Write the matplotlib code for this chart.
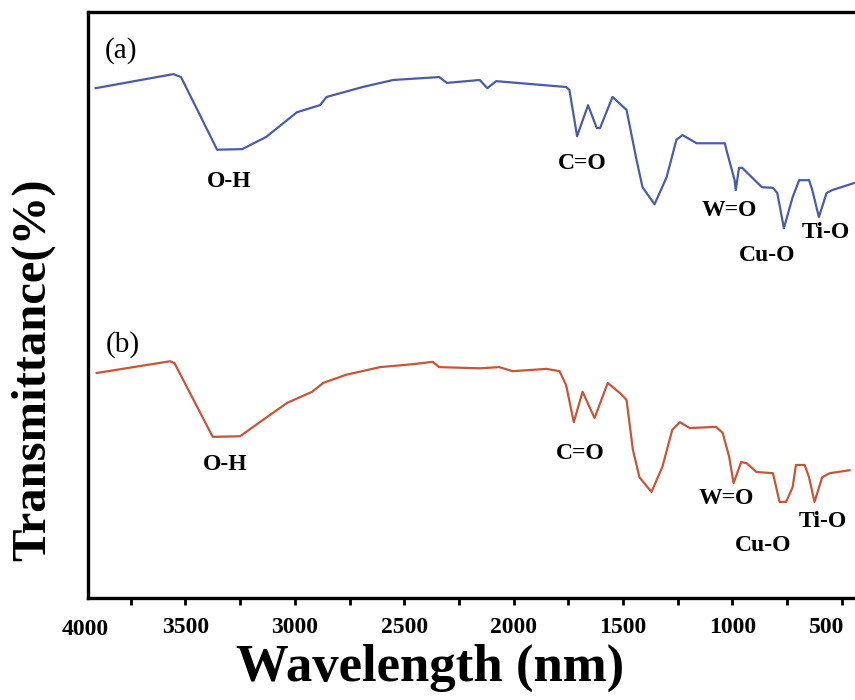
import matplotlib
matplotlib.use("Agg")
import matplotlib.pyplot as plt
import matplotlib.transforms as mtransforms
from matplotlib.ticker import MultipleLocator

# spectrum (a) - wavenumber vs transmittance (arb. %)
wn_a = [3910, 3555, 3520, 3355, 3240, 3130, 2990, 2885, 2855, 2690, 2550, 2340, 2305,
        2155, 2120, 2080, 1760, 1745, 1710, 1660, 1620, 1605, 1548, 1484, 1438, 1411,
        1356, 1301, 1256, 1228, 1164, 1090, 1035, 1025, 990, 985, 970, 955, 890, 865,
        815, 795, 765, 725, 695, 650, 635, 605, 570, 545, 445]
tr_a = [87.0, 89.4, 88.9, 76.5, 76.6, 78.7, 82.9, 84.1, 85.5, 87.2, 88.4, 88.9, 87.9,
        88.4, 87.0, 88.2, 87.2, 86.7, 78.8, 84.1, 80.2, 80.2, 85.5, 83.3, 74.7, 70.1,
        67.2, 71.8, 78.2, 79.0, 77.6, 77.6, 77.6, 76.1, 71.3, 69.6, 73.4, 73.4, 71.0, 70.1,
        70.0, 69.1, 63.1, 68.4, 71.3, 71.3, 69.6, 65.0, 69.1, 69.6, 70.8]

# spectrum (b)
wn_b = [3905, 3570, 3550, 3375, 3250, 3145, 3035, 2920, 2870, 2765, 2610, 2460, 2370,
        2340, 2155, 2065, 2005, 1850, 1790, 1760, 1725, 1685, 1630, 1570, 1515, 1484,
        1455, 1425, 1370, 1320, 1275, 1240, 1195, 1075, 1045, 1015, 995, 960, 935, 890,
        815, 800, 785, 755, 725, 710, 670, 650, 625, 590, 555, 465]
tr_b = [38.4, 40.4, 40.1, 27.5, 27.6, 30.4, 33.3, 35.2, 36.7, 38.1, 39.4, 39.9, 40.3,
        39.4, 39.2, 39.4, 38.7, 39.1, 38.7, 36.3, 30.0, 35.2, 30.7, 36.7, 35.0, 33.8,
        25.3, 20.6, 18.1, 22.4, 28.7, 30.0, 29.0, 29.2, 28.2, 24.1, 19.6, 23.2, 23.0, 21.5,
        21.3, 18.9, 16.4, 16.4, 18.9, 22.7, 22.7, 20.6, 16.4, 20.6, 21.3, 21.8]

# band labels: text, wavenumber, transmittance
bands_a = [("O-H", 3301, 71.0), ("C=O", 1685, 74.2), ("W=O", 1014, 66.2),
           ("Cu-O", 840, 58.5), ("Ti-O", 575, 62.3)]
bands_b = [("O-H", 3320, 22.7), ("C=O", 1694, 24.7), ("W=O", 1027, 16.9),
           ("Cu-O", 858, 9.0), ("Ti-O", 589, 13.0)]

tick_vals = [3500, 3000, 2500, 2000, 1500, 1000, 500]

serif = ["Liberation Serif", "DejaVu Serif"]

fig = plt.figure(figsize=(8.55, 7), dpi=100)
ax = fig.add_axes([88 / 855, 1 - 598 / 700, 1 - 88 / 855, 586 / 700])

ax.plot(wn_a, tr_a, color="#4a5ca8", lw=1.6)
ax.plot(wn_b, tr_b, color="#c8553a", lw=1.6)

ax.set_xlim(3945, 440)
ax.set_ylim(0, 100)

ax.text(3867, 93.5, "(a)", family=serif, fontsize=21, ha="left", va="center")
ax.text(3865, 43.2, "(b)", family=serif, fontsize=21, ha="left", va="center")

for name, x, y in bands_a + bands_b:
    ax.text(x, y, name, family=serif, fontsize=17, fontweight="bold",
            ha="center", va="center")

ax.set_xticks(tick_vals)
ax.set_xticklabels([str(v) for v in tick_vals], family=serif, fontsize=17,
                   fontweight="bold")
ax.xaxis.set_minor_locator(MultipleLocator(250))
ax.tick_params(axis="x", which="both", direction="out", length=5, width=2, pad=9)
ax.set_yticks([])

# last label pulled in a little so it stays inside the figure
lbl = ax.get_xticklabels()[-1]
lbl.set_transform(lbl.get_transform() +
                  mtransforms.ScaledTranslation(-0.15, 0, fig.dpi_scale_trans))

# the 4000 label sits just outside the plotted range
ax.text(3959, -3.5, "4000", family=serif, fontsize=17, fontweight="bold",
        ha="center", va="top", clip_on=False)

for s in ["left", "bottom", "top"]:
    ax.spines[s].set_linewidth(2.4)
ax.spines["right"].set_visible(False)

fig.text(430 / 855, 1 - 668 / 700, "Wavelength (nm)", family=serif, fontsize=38,
         fontweight="bold", ha="center", va="center")
fig.text(33 / 855, 1 - 370 / 700, "Transmittance(%)", family=serif, fontsize=35,
         fontweight="bold", ha="center", va="center", rotation=90)

fig.savefig("out.png", dpi=100)
